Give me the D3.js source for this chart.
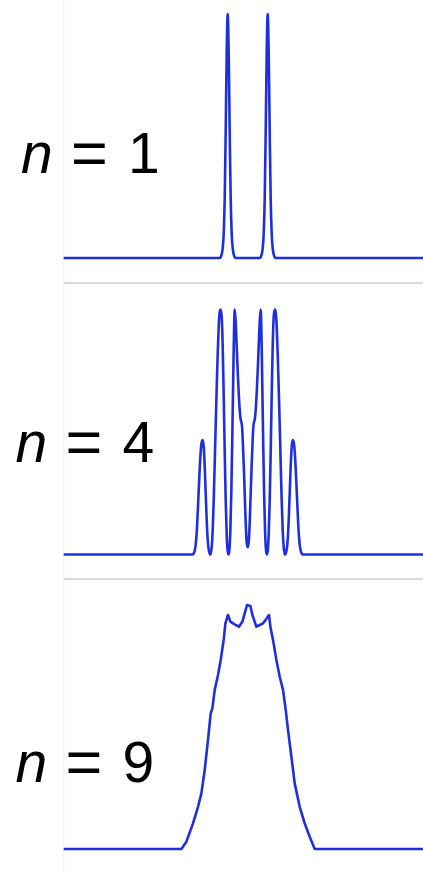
<!DOCTYPE html>
<html>
<head>
<meta charset="utf-8">
<script src="https://cdn.jsdelivr.net/npm/d3@7"></script>
<style>
  html, body { margin: 0; padding: 0; background: #fff; }
  svg { display: block; }
</style>
</head>
<body>
<div id="chart"></div>
<script>
// Panel labels (number of terms)
const panelLabels = ["1", "4", "9"];

// Horizontal position, arbitrary units centred on 0
const xDomain = [-184, 184];

// n = 1 : two narrow peaks
const seriesN1 = [
  [-184, 0], [-28, 0], [-27, 0.004], [-26, 0.015], [-25, 0.04], [-24, 0.1], [-23, 0.24], [-22, 0.52], [-21, 0.84],
  [-20, 1], [-19, 0.84], [-18, 0.52], [-17, 0.24], [-16, 0.1], [-15, 0.04], [-14, 0.015], [-13, 0.004], [-12, 0],
  [12, 0], [13, 0.004], [14, 0.015], [15, 0.04], [16, 0.1], [17, 0.24], [18, 0.52], [19, 0.84],
  [20, 1], [21, 0.84], [22, 0.52], [23, 0.24], [24, 0.1], [25, 0.04], [26, 0.015], [27, 0.004], [28, 0], [184, 0]
];

// n = 4 : six peaks with shoulders toward the centre
const seriesN4 = [
  [-184, 0], [-55, 0], [-54, 0.005], [-53, 0.015], [-52, 0.04], [-51, 0.09], [-50, 0.17], [-49, 0.26], [-48, 0.35],
  [-47, 0.42], [-46, 0.46], [-45, 0.467], [-44, 0.44], [-43, 0.36], [-42, 0.25], [-41, 0.14],
  [-40, 0.06], [-39, 0.02], [-38, 0.004], [-37.5, 0], [-37, 0.004], [-36, 0.03], [-35, 0.1],
  [-34, 0.22], [-33, 0.37], [-32, 0.53], [-31, 0.68], [-30, 0.82], [-29, 0.93], [-28, 0.99],
  [-27, 1], [-26, 0.97], [-25, 0.85], [-24, 0.65], [-23, 0.42], [-22, 0.22], [-21, 0.08],
  [-20, 0.015], [-19.2, 0], [-18.4, 0.015], [-17.4, 0.09], [-16.4, 0.25], [-15.4, 0.48],
  [-14.4, 0.74], [-13.6, 0.93], [-13, 1], [-12, 0.95], [-11, 0.85], [-10, 0.75], [-9, 0.66],
  [-8, 0.59], [-7, 0.55], [-6.3, 0.54], [-5.6, 0.52], [-5, 0.47], [-4, 0.37], [-3, 0.25],
  [-2, 0.13], [-1, 0.05], [0, 0.03],
  [1, 0.05], [2, 0.13], [3, 0.25], [4, 0.37], [5, 0.47], [5.6, 0.52], [6.3, 0.54], [7, 0.55],
  [8, 0.59], [9, 0.66], [10, 0.75], [11, 0.85], [12, 0.95], [13, 1], [13.6, 0.93], [14.4, 0.74],
  [15.4, 0.48], [16.4, 0.25], [17.4, 0.09], [18.4, 0.015], [19.2, 0], [20, 0.015], [21, 0.08],
  [22, 0.22], [23, 0.42], [24, 0.65], [25, 0.85], [26, 0.97], [27, 1], [28, 0.99], [29, 0.93],
  [30, 0.82], [31, 0.68], [32, 0.53], [33, 0.37], [34, 0.22], [35, 0.1], [36, 0.03], [37, 0.004],
  [37.5, 0], [38, 0.004], [39, 0.02], [40, 0.06], [41, 0.14], [42, 0.25], [43, 0.36], [44, 0.44],
  [45, 0.467], [46, 0.46], [47, 0.42], [48, 0.35], [49, 0.26], [50, 0.17], [51, 0.09], [52, 0.04],
  [53, 0.015], [54, 0.005], [55, 0], [184, 0]
];

// n = 9 : broad plateau with a ragged top
const seriesN9 = [
  [-184, 0], [-66.3, 0], [-61.3, 0.03], [-54.7, 0.105], [-49.7, 0.173], [-46.3, 0.228], [-43, 0.324],
  [-39.7, 0.447], [-37, 0.556], [-35.3, 0.577], [-33, 0.652], [-29.7, 0.713], [-27, 0.775],
  [-24, 0.857], [-22.3, 0.925], [-19.7, 0.959], [-17.3, 0.932], [-14.7, 0.925], [-12, 0.918],
  [-8.7, 0.911], [-5.3, 0.932], [-3, 0.966], [-0.7, 1.0], [2.7, 0.996], [4.7, 0.959], [8.7, 0.911],
  [12, 0.918], [15.3, 0.925], [18, 0.939], [21.3, 0.959], [22.7, 0.911], [25.3, 0.857],
  [28.7, 0.775], [32, 0.706], [35.3, 0.652], [38, 0.57], [40.3, 0.488], [43.7, 0.378],
  [47, 0.269], [52, 0.173], [57, 0.105], [62, 0.05], [67, 0], [184, 0]
];

const allSeries = [seriesN1, seriesN4, seriesN9];

const W = 423, H = 871;
const plotLeft = 63.7, plotRight = 431.7;
// each panel: value 0 at base, value 1 at top
const panels = [
  { base: 258, top: 14, frameTop: 0, frameBottom: 283, labelX: 21, labelY: 173, curve: d3.curveMonotoneX },
  { base: 554.5, top: 309.5, frameTop: 283, frameBottom: 579, labelX: 15.5, labelY: 462, curve: d3.curveMonotoneX },
  { base: 849, top: 605, frameTop: 579, frameBottom: 871, labelX: 15.5, labelY: 782, curve: d3.curveLinear }
];

const svg = d3.select("#chart").append("svg")
  .attr("width", W).attr("height", H)
  .attr("viewBox", `0 0 ${W} ${H}`);

const x = d3.scaleLinear().domain(xDomain).range([plotLeft, plotRight]);

panels.forEach((p, i) => {
  const g = svg.append("g");
  const y = d3.scaleLinear().domain([0, 1]).range([p.base, p.top]);

  // faint left edge of the panel
  g.append("line")
    .attr("x1", plotLeft).attr("x2", plotLeft)
    .attr("y1", p.frameTop).attr("y2", p.frameBottom)
    .attr("stroke", "#f3f3f3").attr("stroke-width", 1.5);

  // separator under the panel
  if (i < panels.length - 1) {
    g.append("line")
      .attr("x1", plotLeft).attr("x2", W)
      .attr("y1", p.frameBottom).attr("y2", p.frameBottom)
      .attr("stroke", "#d9d9d9").attr("stroke-width", 2);
  }

  const line = d3.line()
    .x(d => x(d[0]))
    .y(d => y(d[1]))
    .curve(p.curve);

  g.append("path")
    .datum(allSeries[i])
    .attr("d", line)
    .attr("fill", "none")
    .attr("stroke", "#1f2fe0")
    .attr("stroke-width", 2.6)
    .attr("stroke-linejoin", "round");

  // label "n = k": italic n, a slightly larger equals sign, then the digit
  const t = g.append("text")
    .attr("y", p.labelY)
    .attr("font-family", "'Liberation Sans', Arial, Helvetica, sans-serif")
    .attr("font-size", 57)
    .attr("fill", "#000");
  t.append("tspan").attr("x", p.labelX).attr("font-style", "italic").text("n");
  t.append("tspan").attr("x", p.labelX + 50).attr("dy", 2).attr("font-size", 63).text("=");
  t.append("tspan").attr("x", p.labelX + 107).attr("dy", -2).text(panelLabels[i]);
});
</script>
</body>
</html>
